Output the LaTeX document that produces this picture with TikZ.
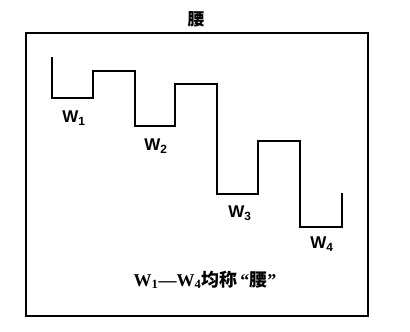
\documentclass[tikz,border=0pt]{standalone}
\usepackage{fontspec}
\setmainfont{Liberation Serif}
\newfontfamily\cjk{Noto Sans CJK SC}
\newfontfamily\lab{Liberation Sans}
\begin{document}
\begin{tikzpicture}[x=1pt,y=-1pt,
  wlabel/.style={font=\lab\bfseries\fontsize{17}{19}\selectfont,inner sep=0pt},
  wave/.style={line width=2.8pt,line join=miter},
  frame/.style={line width=1.8pt}]
\useasboundingbox (0,0) rectangle (410,332);
\node[font=\cjk\bfseries\fontsize{17}{19}\selectfont,inner sep=0pt] (title) at (196,19) {腰};
\draw[frame] (26,33) rectangle (368,316);
\draw[wave] (52,57) -- (52,98) -- (93,98) -- (93,71) -- (135,71) -- (135,126)
  -- (175,126) -- (175,84) -- (217,84) -- (217,194) -- (258,194) -- (258,141)
  -- (300,141) -- (300,227) -- (342,227) -- (342,193);
\node[wlabel] (w1) at (74,118) {W\textsubscript{1}};
\node[wlabel] (w2) at (156,146) {W\textsubscript{2}};
\node[wlabel] (w3) at (240,213) {W\textsubscript{3}};
\node[wlabel] (w4) at (322,244) {W\textsubscript{4}};
\node[font=\bfseries\fontsize{18}{20}\selectfont,inner sep=0pt] (cap) at (205,280)
  {W\textsubscript{1}—W\textsubscript{4}{\cjk\bfseries 均称}\,“{\cjk\bfseries 腰}”};
\end{tikzpicture}
\end{document}
